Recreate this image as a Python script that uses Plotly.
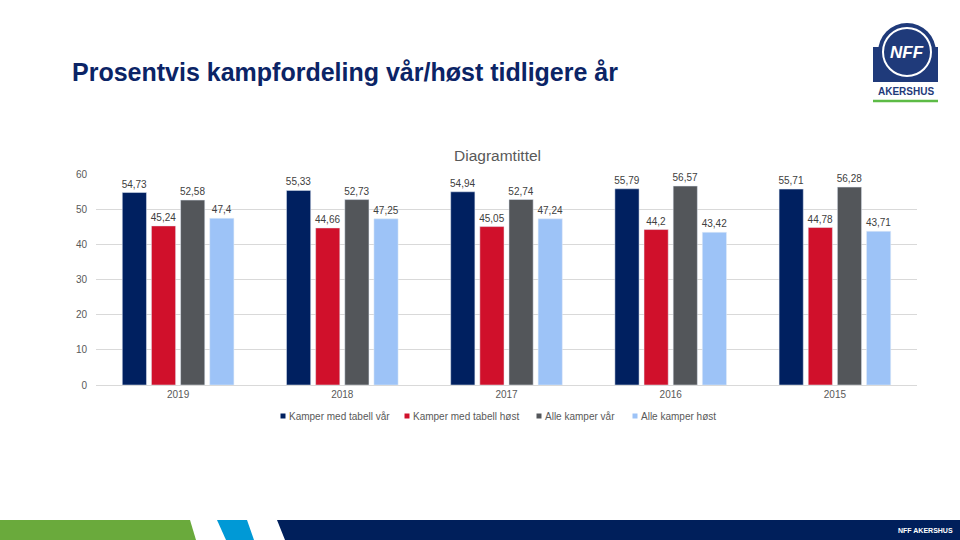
import plotly.graph_objects as go

years = ["2019", "2018", "2017", "2016", "2015"]
series_names = ["Kamper med tabell vår", "Kamper med tabell høst", "Alle kamper vår", "Alle kamper høst"]
med_tabell_var = [54.73, 55.33, 54.94, 55.79, 55.71]
med_tabell_host = [45.24, 44.66, 45.05, 44.2, 44.78]
alle_var = [52.58, 52.73, 52.74, 56.57, 56.28]
alle_host = [47.4, 47.25, 47.24, 43.42, 43.71]
y_ticks = [0, 10, 20, 30, 40, 50, 60]

colors = ["#002060", "#D0102B", "#53565A", "#9DC3F7"]
legend_x = [283, 407, 539, 635]
W, H = 960, 540
L, R, T, B = 96, 917, 174, 385
FONT = "Liberation Sans, Arial"

def px(x):
    return (x - L) / (R - L)

def py(y):
    return (B - y) / (B - T)

fig = go.Figure()
for name, vals, col in zip(series_names, [med_tabell_var, med_tabell_host, alle_var, alle_host], colors):
    fig.add_trace(go.Bar(
        x=years, y=vals, name=name, marker_color=col, showlegend=False,
        text=[str(v).replace(".", ",") for v in vals],
        textposition="outside", cliponaxis=False, constraintext="none",
        textfont=dict(size=10, color="#404040", family=FONT),
        hoverinfo="skip",
    ))

shapes = []
annotations = []

def poly(points, color):
    path = "M " + " L ".join(f"{px(x):.5f},{py(y):.5f}" for x, y in points) + " Z"
    shapes.append(dict(type="path", path=path, xref="paper", yref="paper",
                       fillcolor=color, line=dict(width=0), layer="above"))

# legend (small square markers, tight spacing like the original)
for name, col, lx in zip(series_names, colors, legend_x):
    shapes.append(dict(type="rect", xref="paper", yref="paper",
                       x0=px(lx - 2.5), x1=px(lx + 2.5), y0=py(413.5), y1=py(418.5),
                       fillcolor=col, line=dict(width=0)))
    annotations.append(dict(text=name, x=px(lx + 4), y=py(416), xref="paper", yref="paper",
                            showarrow=False, xanchor="left", yanchor="middle",
                            font=dict(size=10, color="#595959", family=FONT)))

# bottom band
poly([(0, 520), (190, 520), (196, 540), (0, 540)], "#6AAA3C")
poly([(217, 520), (247, 520), (254, 540), (226, 540)], "#0099D6")
poly([(277, 520), (960, 520), (960, 540), (285, 540)], "#001F5B")
annotations.append(dict(text="<b>NFF AKERSHUS</b>", x=px(925), y=py(530), xref="paper", yref="paper",
                        showarrow=False, font=dict(size=7, color="white", family=FONT),
                        xanchor="center", yanchor="middle"))

# logo
poly([(873, 47), (938, 47), (938, 82), (873, 82)], "#1F3A7A")
shapes.append(dict(type="circle", xref="paper", yref="paper",
                   x0=px(878), x1=px(936), y0=py(23), y1=py(81),
                   fillcolor="#1F3A7A", line=dict(width=0), layer="above"))
shapes.append(dict(type="circle", xref="paper", yref="paper",
                   x0=px(883), x1=px(931), y0=py(28), y1=py(76),
                   fillcolor="rgba(0,0,0,0)", line=dict(width=2, color="white"), layer="above"))
annotations.append(dict(text="<b><i>NFF</i></b>", x=px(907), y=py(52), xref="paper", yref="paper",
                        showarrow=False, font=dict(size=17, color="white", family=FONT),
                        xanchor="center", yanchor="middle"))
annotations.append(dict(text="<b>AKERSHUS</b>", x=px(906), y=py(91), xref="paper", yref="paper",
                        showarrow=False, font=dict(size=10, color="#1F3A7A", family="Liberation Sans Narrow, Liberation Sans, Arial"),
                        xanchor="center", yanchor="middle"))
shapes.append(dict(type="line", xref="paper", yref="paper", x0=px(873), x1=px(938), y0=py(101), y1=py(101),
                   line=dict(color="#5DBB46", width=2.5), layer="above"))

# slide title
annotations.append(dict(text="<b>Prosentvis kampfordeling vår/høst tidligere år</b>", x=px(70), y=py(72),
                        xref="paper", yref="paper", showarrow=False, xanchor="left", yanchor="middle",
                        font=dict(size=25, color="#0B2466", family=FONT)))
# chart title
annotations.append(dict(text="Diagramtittel", x=px(497), y=py(155), xref="paper", yref="paper",
                        showarrow=False, xanchor="center", yanchor="middle",
                        font=dict(size=15.5, color="#595959", family=FONT)))

fig.update_layout(
    width=W, height=H,
    margin=dict(l=L, r=W - R, t=T, b=H - B, pad=0),
    paper_bgcolor="white", plot_bgcolor="white",
    barmode="group", bargap=0.29, bargroupgap=0.17,
    showlegend=False, hovermode=False,
    xaxis=dict(showgrid=False, showline=True, linecolor="#D9D9D9", linewidth=1, ticks="",
               tickfont=dict(size=10, color="#595959", family=FONT)),
    yaxis=dict(range=[0, 60], tickvals=y_ticks, showgrid=True, gridcolor="#D9D9D9", gridwidth=1,
               zeroline=False, showline=False, ticks="", ticklabelstandoff=8,
               tickfont=dict(size=10, color="#595959", family=FONT)),
    shapes=shapes, annotations=annotations,
    font=dict(family=FONT),
)

fig.write_html("out.html", config={"displayModeBar": False, "staticPlot": True},
               post_script="document.body.style.margin='0';document.body.style.padding='0';document.body.style.overflow='hidden';")
